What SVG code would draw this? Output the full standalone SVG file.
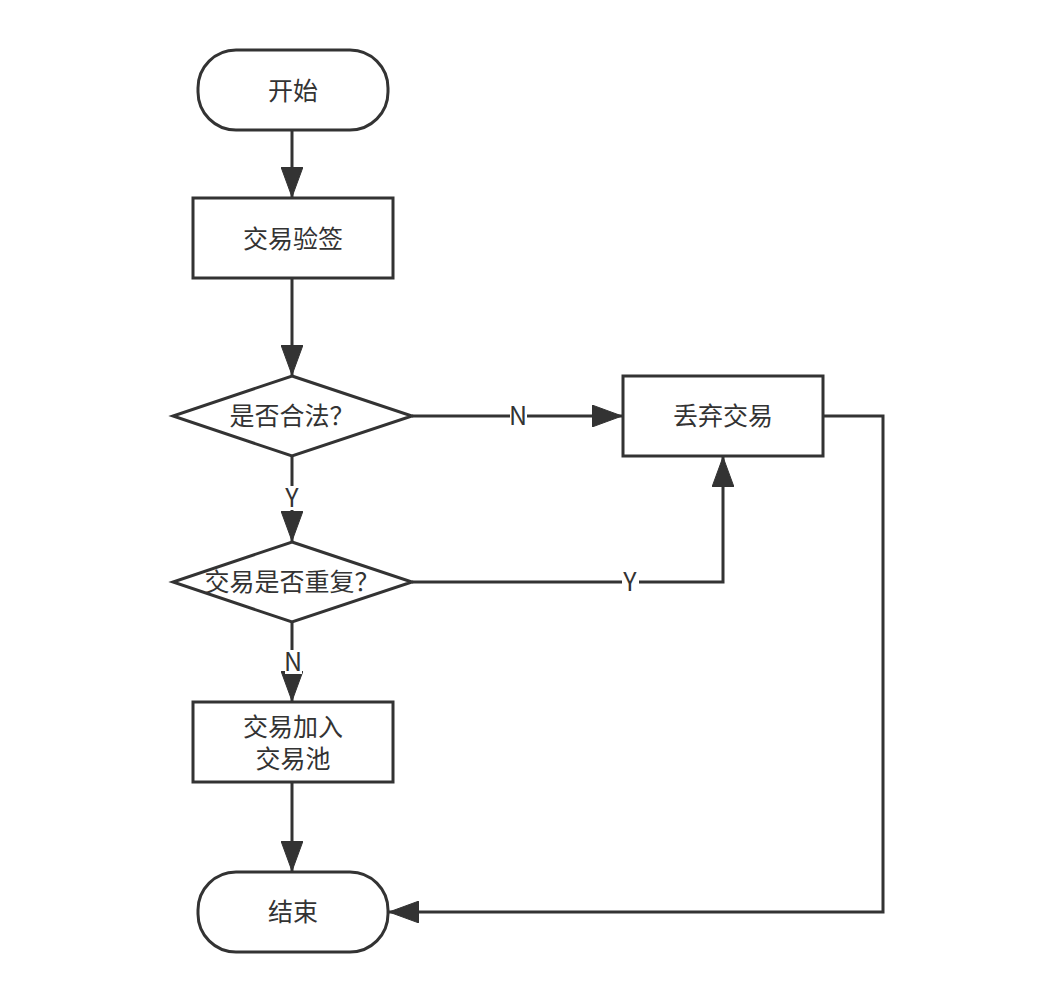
<svg xmlns="http://www.w3.org/2000/svg" width="1056" height="1002" viewBox="0 0 1056 1002">
<style>
.s{fill:#fff;stroke:#333;stroke-width:3}
.c{fill:none;stroke:#333;stroke-width:3}
.t{font-family:"Noto Sans CJK SC","Noto Sans",sans-serif;font-size:25px;fill:#333;text-anchor:middle;dominant-baseline:central}
.lb{fill:#fff}
</style>
<defs>
<marker id="ah" viewBox="0 0 30 22" refX="30" refY="11" markerWidth="30" markerHeight="22" orient="auto" markerUnits="userSpaceOnUse"><path d="M0,0L30,11L0,22Z" fill="#333" stroke="#333" stroke-width="1"/></marker>
</defs>
<rect width="1056" height="1002" fill="#fff"/>
<g id="connectors">
<path class="c" d="M292,130V197" marker-end="url(#ah)"/>
<path class="c" d="M292,278V375" marker-end="url(#ah)"/>
<path class="c" d="M412,416H622" marker-end="url(#ah)"/>
<path class="c" d="M292,456V541" marker-end="url(#ah)"/>
<path class="c" d="M412,582H723V457" marker-end="url(#ah)"/>
<path class="c" d="M292,622V701" marker-end="url(#ah)"/>
<path class="c" d="M292,782V871" marker-end="url(#ah)"/>
<path class="c" d="M823,416H883V912H389" marker-end="url(#ah)"/>
<rect class="lb" x="510" y="404" width="17" height="24"/><text class="t" x="518" y="414">N</text>
<rect class="lb" x="284" y="486" width="17" height="24"/><text class="t" x="292" y="496">Y</text>
<rect class="lb" x="622" y="570" width="17" height="24"/><text class="t" x="630" y="580">Y</text>
<rect class="lb" x="285" y="650" width="17" height="24"/><text class="t" x="293" y="660">N</text>
</g>
<g id="start"><rect class="s" x="198" y="50" width="190" height="80" rx="38"/><text class="t" x="293" y="89">开始</text></g>
<g id="verify"><rect class="s" x="193" y="198" width="200" height="80"/><text class="t" x="293" y="237">交易验签</text></g>
<g id="legal"><path class="s" d="M292,376L412,416L292,456L173,416Z"/><text class="t" x="292" y="414">是否合法？</text></g>
<g id="discard"><rect class="s" x="623" y="376" width="200" height="80"/><text class="t" x="723" y="414">丢弃交易</text></g>
<g id="dup"><path class="s" d="M292,542L412,582L292,622L173,582Z"/><text class="t" x="292" y="580">交易是否重复？</text></g>
<g id="pool"><rect class="s" x="193" y="702" width="200" height="80"/><text class="t" x="293" y="725">交易加入</text><text class="t" x="293" y="757">交易池</text></g>
<g id="end"><rect class="s" x="198" y="872" width="190" height="80" rx="38"/><text class="t" x="293" y="910">结束</text></g>
</svg>
